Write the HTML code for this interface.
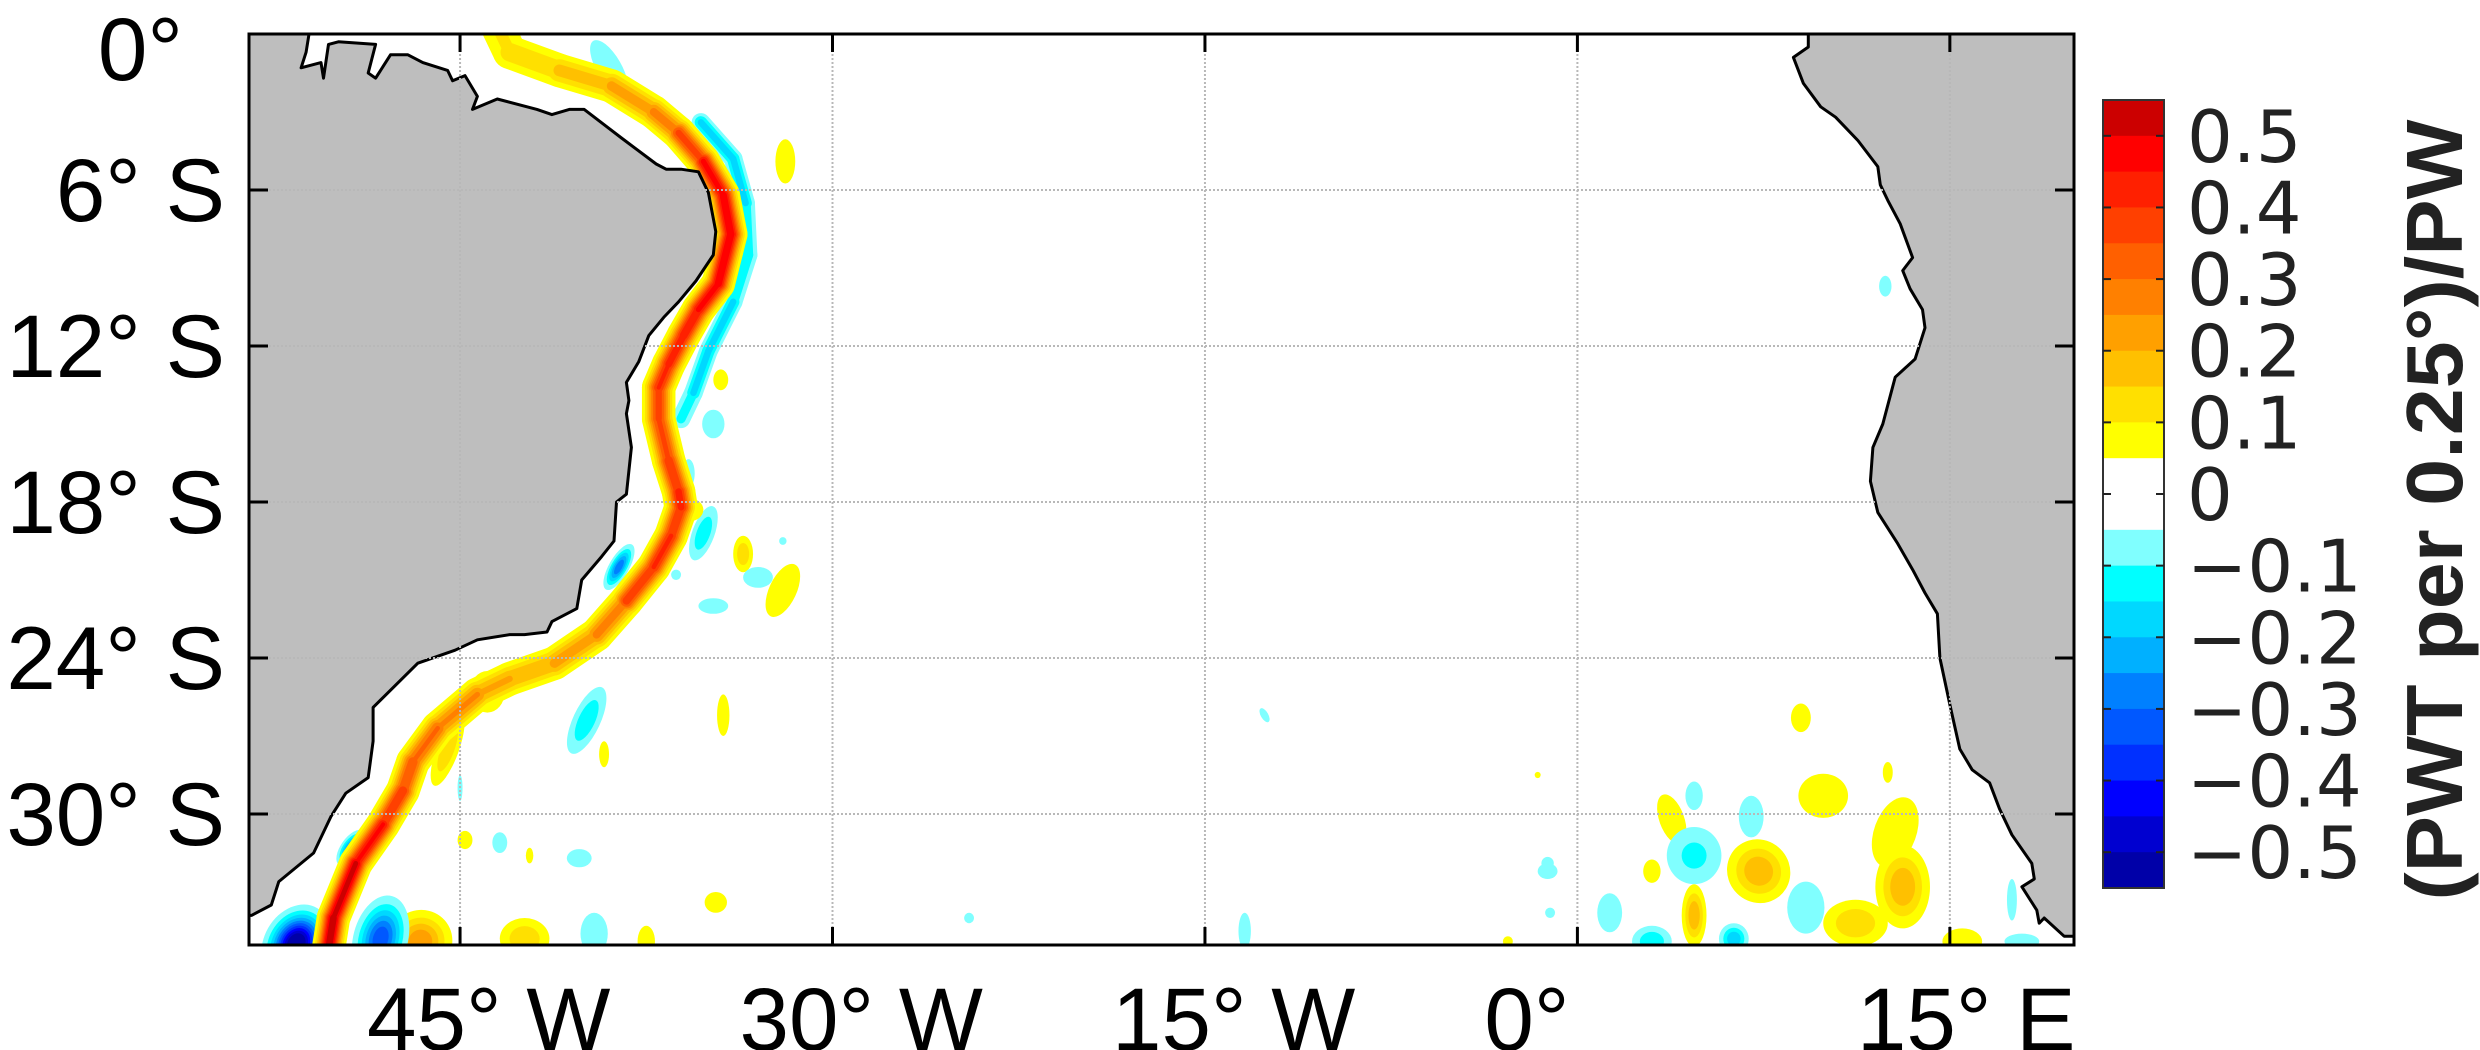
<!DOCTYPE html>
<html><head><meta charset="utf-8"><style>
html,body{margin:0;padding:0;background:#fff;}
svg{display:block;}
</style></head><body>
<svg id="chart" xmlns="http://www.w3.org/2000/svg" width="2480" height="1050" viewBox="0 0 2480 1050">
<defs><clipPath id="plotclip"><rect x="249" y="34" width="1825" height="911"/></clipPath></defs>
<g id="field" clip-path="url(#plotclip)"></g>
<g id="land" clip-path="url(#plotclip)"></g>
<g id="grid"></g>
<rect x="249" y="34" width="1825" height="911" fill="none" stroke="#000" stroke-width="3"/>
<g id="axes"></g>
<g id="cbar"></g>
<text transform="translate(2462,510) rotate(-90)" text-anchor="middle" font-family="Liberation Sans Narrow, Liberation Sans, sans-serif" font-weight="bold" font-size="80" textLength="781" lengthAdjust="spacingAndGlyphs" fill="#222">(PWT per 0.25°)/PW</text>
</svg>
<script>
// ---- data ----
const lonTicks = [-45, -30, -15, 0, 15];
const lonLabels = ["45° W", "30° W", "15° W", "0°", "15° E"];
const latTicks = [0, -6, -12, -18, -24, -30];
const latLabels = ["0°", "6° S", "12° S", "18° S", "24° S", "30° S"];
const cbarLabelValues = [0.5, 0.4, 0.3, 0.2, 0.1, 0, -0.1, -0.2, -0.3, -0.4, -0.5];
const cbarLabels = ["0.5", "0.4", "0.3", "0.2", "0.1", "0", "\u22120.1", "\u22120.2", "\u22120.3", "\u22120.4", "\u22120.5"];
const posColors = ["#FFFF00","#FFE000","#FFC000","#FFA000","#FF8000","#FF6000","#FF4000","#FF2000","#FF0000","#CC0000"];
const negColors = ["#80FFFF","#00FFFF","#00D8FF","#00B0FF","#0080FF","#0058FF","#0030FF","#0000FF","#0000D0","#0000A8"];
// current core: lon, lat, amplitude
const coreLon = [-43.5,-43.0,-41.0,-38.9,-37.2,-36.2,-35.2,-34.4,-34.1,-34.6,-35.4,-36.0,-36.6,-37.0,-37.0,-36.6,-36.2,-36.1,-36.5,-37.2,-38.3,-39.5,-41.2,-43.0,-44.3,-45.9,-46.9,-47.3,-48.1,-49.2,-50.1,-50.4];
const coreLat = [0.3,-0.7,-1.4,-2.0,-3.0,-3.8,-4.9,-6.2,-7.7,-9.6,-10.6,-11.6,-12.7,-13.6,-14.8,-16.4,-17.6,-18.2,-19.3,-20.5,-21.8,-23.1,-24.2,-24.8,-25.4,-26.7,-28.0,-29.1,-30.4,-31.9,-34.0,-35.8];
const coreAmp = [0.1,0.12,0.15,0.2,0.25,0.3,0.45,0.5,0.5,0.5,0.45,0.45,0.42,0.4,0.35,0.38,0.42,0.45,0.35,0.48,0.3,0.25,0.2,0.2,0.22,0.3,0.32,0.38,0.42,0.5,0.55,0.55];
// offshore negative band
const negLon = [-35.3,-34.0,-33.5,-33.4,-34.0,-35.0,-35.6,-36.1];
const negLat = [-3.4,-4.8,-6.5,-8.5,-10.3,-12.2,-13.8,-14.8];
const negAmp = [-0.15,-0.2,-0.15,-0.12,-0.15,-0.2,-0.15,-0.1];
// eddies: lon, lat, rx(deg), ry(deg), angle, value
const blobLon = [-39.0,-31.9,12.4,-34.5,-34.8,-35.8,-35.2,-33.6,-33.0,-32.0,-34.8,-32.0,-36.3,-38.6,-35.8,-43.9,-39.9,-39.2,-34.4,-40.2,-43.4,-44.8,-42.2,-34.7,-39.6,-42.4,-37.5,-46.6,-48.2,-51.6,-49.4,-45.5,-45.0,9.0,12.5,9.9,4.7,3.8,7.0,4.7,3.0,7.3,9.2,12.8,13.1,11.2,15.5,1.3,3.0,4.7,6.3,17.5,17.9,-1.2,-1.1,-12.6,-1.6,-1.2,-13.4,-2.8,-24.5];
const blobLat = [-1.3,-4.9,-9.7,-13.3,-15.0,-16.9,-19.2,-20.0,-20.9,-21.4,-22.0,-19.5,-20.8,-20.5,-18.3,-25.3,-26.4,-27.7,-26.2,-31.7,-31.1,-31.0,-31.6,-33.4,-34.6,-34.8,-34.9,-34.9,-34.8,-35.0,-31.3,-27.5,-29.0,-26.3,-28.4,-29.3,-29.3,-30.2,-30.1,-31.6,-32.2,-32.2,-33.6,-30.7,-32.8,-34.2,-34.9,-33.8,-34.9,-33.9,-34.8,-33.3,-34.9,-31.9,-33.8,-26.2,-28.5,-32.2,-34.5,-34.9,-34.0];
const blobRx = [0.5,0.4,0.25,0.3,0.45,0.25,0.45,0.4,0.6,0.55,0.6,0.15,0.2,0.4,0.6,0.7,0.55,0.2,0.25,0.5,0.3,0.3,0.15,0.45,0.55,1.0,0.35,1.3,1.1,1.3,0.4,0.45,0.1,0.4,0.2,1.0,0.35,0.5,0.5,1.1,0.35,1.25,0.75,0.85,1.1,1.3,0.8,0.5,0.8,0.5,0.6,0.2,0.7,0.25,0.2,0.15,0.12,0.4,0.25,0.2,0.2];
const blobRy = [1.2,0.85,0.4,0.4,0.55,0.55,1.1,0.7,0.4,1.1,0.3,0.15,0.2,1.0,0.45,0.8,1.4,0.5,0.8,0.35,0.4,0.35,0.3,0.4,0.8,0.8,0.6,1.2,1.7,1.6,0.8,1.5,0.5,0.55,0.4,0.85,0.55,1.0,0.8,1.1,0.45,1.25,1.0,1.4,1.6,0.9,0.5,0.75,0.6,1.2,0.6,0.8,0.3,0.25,0.2,0.3,0.12,0.3,0.7,0.2,0.2];
const blobAng = [-30,0,0,0,0,0,20,0,0,25,0,0,0,30,0,0,25,0,0,0,0,0,0,0,0,0,0,-30,15,30,35,20,0,0,0,0,0,-20,0,0,0,-40,0,20,0,0,0,0,0,0,0,0,0,0,0,-30,0,0,0,0,0];
const blobVal = [-0.1,0.1,-0.1,0.1,-0.1,-0.1,-0.15,0.15,-0.1,0.1,-0.1,-0.1,-0.1,-0.3,0.15,0.15,-0.15,0.1,0.1,-0.1,-0.1,0.1,0.1,0.1,-0.1,0.15,0.1,0.25,-0.35,-0.6,-0.3,0.15,-0.1,0.1,0.1,0.1,-0.1,0.1,-0.1,-0.12,0.1,0.2,-0.1,0.1,0.2,0.15,0.1,-0.1,-0.15,0.2,-0.2,-0.1,-0.1,-0.1,-0.1,-0.1,0.1,-0.1,-0.1,0.1,-0.1];
// coastlines (lon, lat)
const samLon = [-54,-51.0,-51.2,-51.4,-50.6,-50.5,-50.3,-49.9,-48.4,-48.7,-48.4,-47.8,-47.1,-46.5,-45.5,-45.3,-44.8,-44.3,-44.5,-43.5,-41.9,-41.3,-40.6,-40.0,-38.5,-37.1,-36.7,-36.1,-35.4,-35.0,-34.7,-34.8,-35.5,-36.2,-36.8,-37.4,-37.8,-38.3,-38.2,-38.3,-38.1,-38.3,-38.7,-38.8,-39.3,-40.1,-40.3,-41.3,-41.5,-42.4,-43.0,-44.3,-45.2,-46.7,-48.5,-48.5,-48.7,-49.6,-50.2,-50.9,-52.3,-52.6,-53.4,-54];
const samLat = [0.5,0.5,-0.7,-1.3,-1.1,-1.7,-0.4,-0.3,-0.4,-1.5,-1.7,-0.8,-0.8,-1.1,-1.4,-1.8,-1.6,-2.4,-2.9,-2.5,-2.9,-3.1,-2.9,-2.9,-4.0,-5.0,-5.2,-5.2,-5.3,-6.1,-7.6,-8.5,-9.5,-10.3,-10.9,-11.6,-12.6,-13.4,-14.1,-14.6,-15.9,-17.7,-18.0,-19.5,-20.1,-21.0,-22.1,-22.6,-23.0,-23.1,-23.1,-23.3,-23.7,-24.2,-25.9,-27.2,-28.6,-29.2,-30.1,-31.5,-32.6,-33.5,-33.9,-33.9];
const afrLon = [9.3,9.3,8.7,9.1,9.8,10.4,11.3,12.1,12.2,12.5,13.0,13.5,13.1,13.4,13.9,14.0,13.6,12.8,12.3,11.9,11.8,12.1,12.9,13.5,14.0,14.5,14.6,15.0,15.4,15.9,16.6,17.0,17.5,18.3,18.4,17.9,18.5,18.6,18.8,19.6,21,21];
const afrLat = [0.5,-0.5,-0.9,-1.9,-2.8,-3.2,-4.1,-5.1,-5.8,-6.4,-7.3,-8.6,-9.1,-9.8,-10.6,-11.3,-12.5,-13.2,-15.0,-15.9,-17.2,-18.4,-19.6,-20.6,-21.5,-22.3,-24.0,-25.8,-27.5,-28.3,-28.8,-29.8,-30.8,-31.9,-32.5,-32.8,-33.7,-34.2,-34.0,-34.7,-34.7,0.5];

// ---- scales ----
const SVGNS = "http://www.w3.org/2000/svg";
function sx(lon){ return 249 + (lon + 53.5) * 24.83; }
function sy(lat){ return 34 - lat * 26.0; }
const PXLON = 24.83, PXLAT = 26.0;
function mk(tag, attrs, parent){ const e = document.createElementNS(SVGNS, tag); for (const k in attrs) e.setAttribute(k, attrs[k]); parent.appendChild(e); return e; }
function colorFor(level){ const i = Math.round(Math.abs(level)/0.05) - 1; return level > 0 ? posColors[Math.min(i,9)] : negColors[Math.min(i,9)]; }
function shrink(amp, l){ return Math.sqrt(Math.log(amp/l)/Math.log(amp/0.05)); }

const field = document.getElementById('field');
for (let i = 0; i < blobVal.length; i++) {
  const a = Math.abs(blobVal[i]);
  const g = mk('g', {transform: `translate(${sx(blobLon[i])},${sy(blobLat[i])}) rotate(${blobAng[i]})`}, field);
  
  
  for (let l = 0.05; l < a - 1e-9; l += 0.05) {
    const f = a > 0.0501 ? Math.max(shrink(a, l), 0.12) : 1;
    mk('ellipse', {cx: 0, cy: 0, rx: blobRx[i]*PXLON*f, ry: blobRy[i]*PXLAT*f, fill: colorFor(Math.sign(blobVal[i])*l)}, g);
  }
}
function drawBand(lons, lats, amps, widthDeg, name){
  const g = mk('g', {}, field);
  
  
  let maxA = 0; amps.forEach(v => maxA = Math.max(maxA, Math.abs(v)));
  for (let l = 0.05; l < maxA - 1e-9; l += 0.05) {
    for (let i = 0; i < lons.length - 1; i++) {
      const a = (Math.abs(amps[i]) + Math.abs(amps[i+1])) / 2;
      if (a <= l + 1e-9) continue;
      const f = Math.max(shrink(a, l), 0.12);
      const sgn = Math.sign(amps[i]);
      mk('line', {x1: sx(lons[i]), y1: sy(lats[i]), x2: sx(lons[i+1]), y2: sy(lats[i+1]),
        stroke: colorFor(sgn*l), 'stroke-width': widthDeg*PXLON*f, 'stroke-linecap': 'round'}, g);
    }
  }
}
drawBand(negLon, negLat, negAmp, 0.75, 'offshore-countercurrent');
drawBand(coreLon, coreLat, coreAmp, 1.35, 'boundary-current');

const land = document.getElementById('land');
function poly(lons, lats, name){
  const pts = lons.map((v,i) => sx(v).toFixed(1) + ',' + sy(lats[i]).toFixed(1)).join(' ');
  const p = mk('polygon', {points: pts, fill: '#bebebe', stroke: '#000', 'stroke-width': 3, 'stroke-linejoin': 'round'}, land);
  
  
}
poly(samLon, samLat, 'south-america');
poly(afrLon, afrLat, 'africa');

const grid = document.getElementById('grid'), axes = document.getElementById('axes');
lonTicks.forEach((lon, i) => {
  const x = sx(lon);
  const gl = mk('line', {x1: x, y1: 34, x2: x, y2: 945, stroke: '#b8b8b8', 'stroke-width': 2, 'stroke-dasharray': '2,2'}, grid);
  
  
  mk('line', {x1: x, y1: 34, x2: x, y2: 52, stroke: '#000', 'stroke-width': 3}, axes);
  mk('line', {x1: x, y1: 945, x2: x, y2: 927, stroke: '#000', 'stroke-width': 3}, axes);
  const t = mk('text', {x: x - 93, y: 1050, 'font-family': 'Liberation Sans, sans-serif', 'font-size': 89}, axes);
  
  
  t.textContent = lonLabels[i];
});
latTicks.forEach((lat, i) => {
  const y = sy(lat);
  if (lat !== 0) {
    const gl = mk('line', {x1: 249, y1: y, x2: 2074, y2: y, stroke: '#b8b8b8', 'stroke-width': 2, 'stroke-dasharray': '2,2'}, grid);
    
    
    mk('line', {x1: 249, y1: y, x2: 268, y2: y, stroke: '#000', 'stroke-width': 3}, axes);
    mk('line', {x1: 2074, y1: y, x2: 2055, y2: y, stroke: '#000', 'stroke-width': 3}, axes);
  }
  const t = mk('text', {x: lat === 0 ? 183 : 225, y: lat === 0 ? 80 : y + 31, 'text-anchor': 'end', 'font-family': 'Liberation Sans, sans-serif', 'font-size': 89}, axes);
  
  
  t.textContent = latLabels[i];
});

const cb = document.getElementById('cbar');
const CB_TOP = 100, CB_BOT = 888, CB_X = 2103, CB_W = 61;
function cy(v){ return CB_TOP + (0.55 - v) / 1.1 * (CB_BOT - CB_TOP); }
for (let k = 0; k < 22; k++) {
  const hi = 0.55 - k*0.05, lo = hi - 0.05, mid = (hi + lo)/2;
  let col = '#ffffff';
  if (mid > 0.05) col = posColors[Math.min(Math.floor(mid/0.05 + 1e-9) - 1, 9)];
  else if (mid < -0.05) col = negColors[Math.min(Math.floor(-mid/0.05 + 1e-9) - 1, 9)];
  const r = mk('rect', {x: CB_X, y: cy(hi), width: CB_W, height: cy(lo) - cy(hi) + 0.5, fill: col}, cb);
  
  
}
mk('rect', {x: CB_X, y: CB_TOP, width: CB_W, height: CB_BOT - CB_TOP, fill: 'none', stroke: '#333', 'stroke-width': 2}, cb);
cbarLabelValues.forEach((v, i) => {
  const y = cy(v);
  mk('line', {x1: CB_X, y1: y, x2: CB_X + 8, y2: y, stroke: '#222', 'stroke-width': 2}, cb);
  mk('line', {x1: CB_X + CB_W, y1: y, x2: CB_X + CB_W - 8, y2: y, stroke: '#222', 'stroke-width': 2}, cb);
  const t = mk('text', {x: 2187, y: y + 26, 'font-family': 'DejaVu Sans, sans-serif', 'font-size': 72, fill: '#222'}, cb);
  
  
  t.textContent = cbarLabels[i];
});
</script>
</body></html>
